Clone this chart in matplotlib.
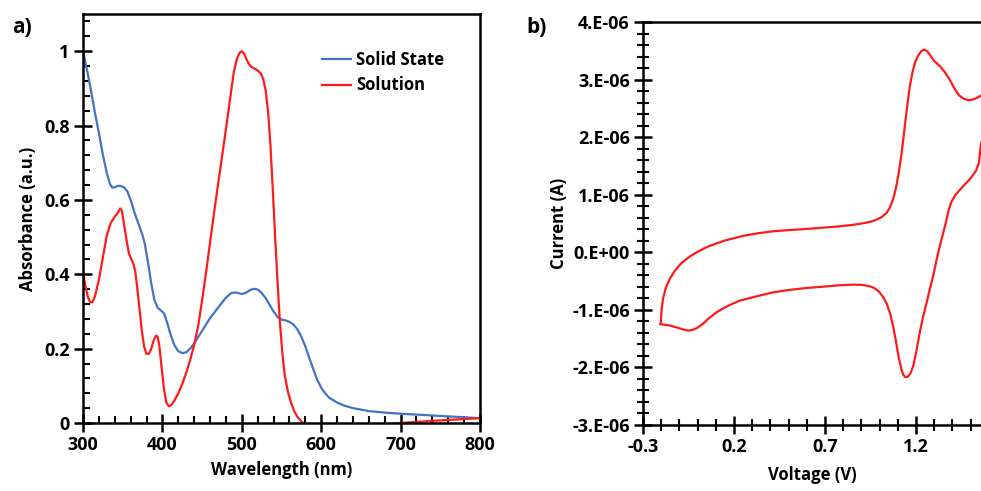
import numpy as np
import matplotlib
matplotlib.use("Agg")
import matplotlib.pyplot as plt
from matplotlib.ticker import MultipleLocator, FuncFormatter

plt.rcParams['font.family'] = ['Open Sans', 'DejaVu Sans']
plt.rcParams['font.weight'] = 'bold'

# absorbance spectra (nm, a.u.)
solid_nm = [300, 305, 310, 315, 320, 325, 330, 334, 337, 340, 344, 348, 352, 356, 360,
            365, 370, 375, 378, 382, 386, 390, 394, 398, 402, 406, 410, 415, 420, 425,
            430, 435, 440, 450, 460, 470, 480, 487, 493, 500, 505, 510, 515, 520, 525,
            530, 535, 540, 545, 550, 555, 560, 565, 570, 575, 580, 585, 590, 595, 600,
            605, 610, 620, 630, 640, 660, 680, 700, 750, 800]
solid_abs = [1.0, 0.95, 0.895, 0.835, 0.78, 0.722, 0.672, 0.642, 0.633, 0.634, 0.638,
             0.637, 0.633, 0.622, 0.60, 0.565, 0.535, 0.505, 0.48, 0.43, 0.375, 0.33,
             0.31, 0.303, 0.295, 0.27, 0.24, 0.21, 0.193, 0.188, 0.19, 0.2, 0.214,
             0.248, 0.282, 0.31, 0.337, 0.35, 0.351, 0.347, 0.35, 0.357, 0.361, 0.359,
             0.35, 0.336, 0.318, 0.3, 0.285, 0.278, 0.276, 0.272, 0.265, 0.252, 0.232,
             0.206, 0.175, 0.145, 0.116, 0.095, 0.08, 0.068, 0.055, 0.046, 0.04, 0.032,
             0.028, 0.025, 0.019, 0.013]

sol_nm = [300, 303, 306, 309, 312, 315, 320, 325, 330, 335, 340, 344, 347, 349, 352,
          355, 358, 361, 364, 366, 368, 371, 374, 377, 380, 383, 386, 389, 392, 394,
          396, 399, 402, 405, 408, 411, 415, 420, 425, 430, 435, 440, 445, 450, 455,
          460, 465, 470, 475, 480, 485, 490, 494, 497, 500, 503, 506, 509, 512, 516,
          520, 524, 527, 530, 533, 536, 539, 542, 545, 548, 551, 554, 558, 562, 566,
          570, 575, 580, 600, 650, 700, 750, 800]
sol_abs = [0.405, 0.37, 0.34, 0.325, 0.325, 0.34, 0.385, 0.445, 0.505, 0.538, 0.555,
           0.566, 0.577, 0.57, 0.53, 0.49, 0.455, 0.44, 0.425, 0.405, 0.37, 0.31, 0.25,
           0.205, 0.186, 0.186, 0.2, 0.222, 0.235, 0.232, 0.21, 0.15, 0.09, 0.055,
           0.045, 0.048, 0.06, 0.08, 0.105, 0.135, 0.17, 0.21, 0.26, 0.33, 0.405,
           0.485, 0.565, 0.64, 0.715, 0.79, 0.868, 0.945, 0.98, 0.995, 1.0, 0.993,
           0.978, 0.965, 0.958, 0.953, 0.948, 0.94, 0.925, 0.895, 0.84, 0.75, 0.63,
           0.5, 0.38, 0.27, 0.19, 0.13, 0.085, 0.055, 0.032, 0.017, 0.004, -0.005,
           -0.012, -0.012, 0.0, 0.007, 0.013]

# cyclic voltammogram (V, microamps), closed loop
cv_v = [-0.203, -0.198, -0.19, -0.175, -0.153, -0.125, -0.09, -0.044, 0.0, 0.048,
        0.1, 0.15, 0.2, 0.25, 0.33, 0.414, 0.5, 0.597, 0.7, 0.781, 0.85, 0.909, 0.95,
        0.982, 1.01, 1.037, 1.055, 1.074, 1.09, 1.105, 1.12, 1.135, 1.15, 1.165, 1.18,
        1.195, 1.21, 1.228, 1.245, 1.262, 1.278, 1.295, 1.315, 1.335, 1.36, 1.385,
        1.41, 1.435, 1.46, 1.49, 1.52, 1.557, 1.6,
        1.6, 1.557, 1.545, 1.53, 1.51, 1.49, 1.465, 1.44, 1.415, 1.395, 1.38, 1.365,
        1.348, 1.33, 1.312, 1.295, 1.275, 1.255, 1.238, 1.22, 1.2, 1.185, 1.17, 1.155,
        1.142, 1.13, 1.12, 1.105, 1.09, 1.075, 1.058, 1.04, 1.02, 0.995, 0.97, 0.94,
        0.9, 0.85, 0.781, 0.7, 0.597, 0.5, 0.414, 0.33, 0.231, 0.18, 0.14, 0.1, 0.06,
        0.03, 0.0, -0.03, -0.055, -0.08, -0.11, -0.15, -0.203]
cv_ua = [-1.246, -1.0, -0.80, -0.62, -0.46, -0.32, -0.19, -0.075, 0.01, 0.087,
         0.15, 0.205, 0.245, 0.285, 0.33, 0.365, 0.385, 0.406, 0.43, 0.452, 0.475,
         0.504, 0.53, 0.565, 0.61, 0.68, 0.77, 0.92, 1.12, 1.38, 1.7, 2.1, 2.5, 2.87,
         3.12, 3.3, 3.41, 3.49, 3.52, 3.49, 3.42, 3.34, 3.28, 3.22, 3.12, 3.0, 2.85,
         2.73, 2.67, 2.64, 2.66, 2.72, 2.85,
         2.3, 1.88, 1.55, 1.42, 1.33, 1.25, 1.17, 1.08, 0.99, 0.88, 0.74, 0.53, 0.32,
         0.1, -0.145, -0.4, -0.65, -0.92, -1.13, -1.4, -1.75, -1.97, -2.1, -2.16,
         -2.17, -2.13, -2.03, -1.83, -1.55, -1.3, -1.07, -0.9, -0.78, -0.68, -0.62,
         -0.585, -0.565, -0.562, -0.572, -0.595, -0.620, -0.655, -0.696, -0.76,
         -0.841, -0.91, -0.975, -1.05, -1.15, -1.24, -1.31, -1.35, -1.36, -1.34,
         -1.31, -1.275, -1.246]

blue = '#4472C4'
red = '#FF1A1A'
fs = 12
tfs = 13

fig = plt.figure(figsize=(9.81, 4.91), dpi=100)

# ---- panel a
ax1 = fig.add_axes([0.0846, 0.1385, 0.4047, 0.833])
ax1.plot(solid_nm, solid_abs, color=blue, lw=1.6, label='Solid State')
ax1.plot(sol_nm, sol_abs, color=red, lw=1.6, label='Solution')
ax1.set_xlim(300, 800)
ax1.set_ylim(0, 1.1)
ax1.xaxis.set_major_locator(MultipleLocator(100))
ax1.xaxis.set_minor_locator(MultipleLocator(20))
ax1.yaxis.set_major_locator(MultipleLocator(0.2))
ax1.yaxis.set_minor_locator(MultipleLocator(0.04))
ax1.yaxis.set_major_formatter(FuncFormatter(lambda v, p: '%g' % round(v, 2)))
ax1.tick_params(which='major', direction='inout', length=13, width=1.8, labelsize=tfs, pad=3)
ax1.tick_params(which='minor', direction='in', length=5, width=1.5)
for s in ax1.spines.values():
    s.set_linewidth(1.8)
ax1.set_xlabel('Wavelength (nm)', fontsize=fs, fontweight='bold', labelpad=5)
ax1.set_ylabel('Absorbance (a.u.)', fontsize=fs, fontweight='bold', labelpad=5)
ax1.legend(loc='upper left', bbox_to_anchor=(0.58, 0.93), frameon=False,
           fontsize=fs, handlelength=1.75, handletextpad=0.3, borderpad=0,
           labelspacing=0.45)
fig.text(0.012, 0.945, 'a)', fontsize=15, fontweight='bold', va='center')

# ---- panel b
ax2 = fig.add_axes([0.6555, 0.1344, 0.3445, 0.8208])
ax2.plot(cv_v, np.array(cv_ua) * 1e-6, color=red, lw=1.6)
ax2.set_xlim(-0.3, 1.557)
ax2.set_ylim(-3e-6, 4e-6)
ax2.set_xticks([-0.3, 0.2, 0.7, 1.2])
ax2.xaxis.set_minor_locator(MultipleLocator(0.1))
ax2.yaxis.set_major_locator(MultipleLocator(1e-6))
ax2.yaxis.set_minor_locator(MultipleLocator(0.2e-6))
ax2.yaxis.set_major_formatter(FuncFormatter(lambda v, p: '%#.0E' % (0 if abs(v) < 1e-12 else v)))
ax2.xaxis.set_major_formatter(FuncFormatter(lambda v, p: '%.1f' % v))
ax2.tick_params(which='major', direction='inout', length=13, width=1.8, labelsize=tfs, pad=3)
ax2.tick_params(which='minor', direction='inout', length=8, width=1.5)
ax2.spines['right'].set_visible(False)
for s in ax2.spines.values():
    s.set_linewidth(1.8)
ax2.set_xlabel('Voltage (V)', fontsize=fs, fontweight='bold', labelpad=7)
ax2.set_ylabel('Current (A)', fontsize=fs, fontweight='bold', labelpad=3)
fig.text(0.537, 0.945, 'b)', fontsize=15, fontweight='bold', va='center')

fig.savefig('out.png', dpi=100)
